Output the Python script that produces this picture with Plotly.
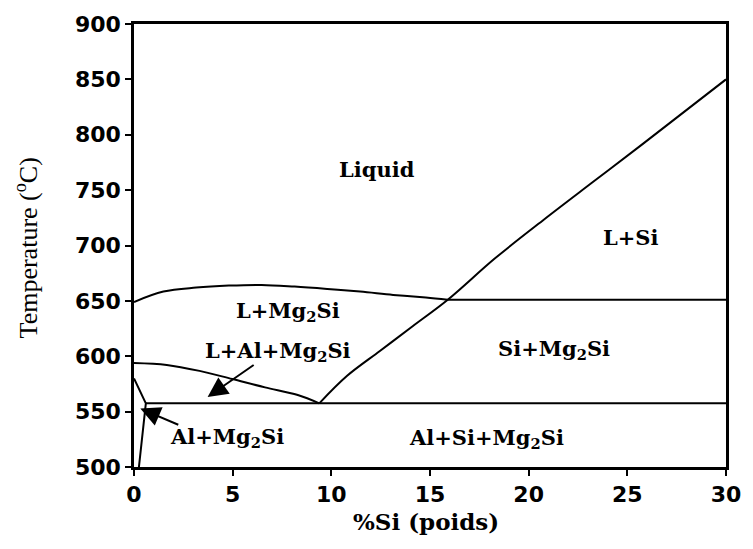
import plotly.graph_objects as go

# ---- data ----
mg2si_liq_x = [0, 1.49, 3.15, 4.81, 6.47, 8.14, 9.8, 11.46, 13.13, 14.79, 15.9]
mg2si_liq_y = [649, 658.4, 662, 663.8, 664.4, 662.9, 660.8, 658.4, 655.4, 653, 651]

si_liq_x = [9.39, 10.8, 12.46, 14.12, 15.9, 18.28, 20.78, 23.27, 25.77, 30]
si_liq_y = [557.5, 582.3, 604.7, 627.1, 651, 688.2, 723.5, 757.5, 791.5, 850]

al_liq_x = [0, 1.66, 3.32, 4.98, 6.64, 8.30, 9.39]
al_liq_y = [594, 592.2, 586.8, 579.4, 571.9, 565, 557.5]

solvus_x = [0, 0.6, 0.25]
solvus_y = [580, 557.5, 500]

eutectic_x = [0.6, 30]
eutectic_y = [557.5, 557.5]

si_mg2si_x = [15.9, 30]
si_mg2si_y = [651, 651]

region_labels = ["Liquid", "L+Si", "L+Mg<sub>2</sub>Si", "L+Al+Mg<sub>2</sub>Si",
                 "Si+Mg<sub>2</sub>Si", "Al+Mg<sub>2</sub>Si", "Al+Si+Mg<sub>2</sub>Si"]
label_x = [12.3, 25.18, 7.8, 7.3, 21.27, 4.73, 17.87]
label_y = [768.7, 707.6, 640.5, 604.7, 606, 527, 525.7]

arrow_tail_x = [6.14, 2.32]
arrow_tail_y = [593, 537.6]
arrow_tip_x = [3.73, 0.32]
arrow_tip_y = [563.2, 552.8]

x_ticks = [0, 5, 10, 15, 20, 25, 30]
y_ticks = [500, 550, 600, 650, 700, 750, 800, 850, 900]

fig = go.Figure()
line_style = dict(color="black", width=2)
for xs, ys, shape in [(mg2si_liq_x, mg2si_liq_y, "spline"), (si_liq_x, si_liq_y, "spline"),
                      (al_liq_x, al_liq_y, "spline"), (solvus_x, solvus_y, "linear"),
                      (eutectic_x, eutectic_y, "linear"), (si_mg2si_x, si_mg2si_y, "linear")]:
    fig.add_trace(go.Scatter(x=xs, y=ys, mode="lines", line=line_style,
                             line_shape=shape, showlegend=False, hoverinfo="skip"))

label_font = dict(family="DejaVu Serif", size=21, color="black")
annotations = []
for t, x, y in zip(region_labels, label_x, label_y):
    annotations.append(dict(x=x, y=y, xref="x", yref="y", text="<b>" + t + "</b>",
                            showarrow=False, font=label_font,
                            xanchor="center", yanchor="middle"))
for tx, ty, hx, hy in zip(arrow_tail_x, arrow_tail_y, arrow_tip_x, arrow_tip_y):
    annotations.append(dict(x=hx, y=hy, ax=tx, ay=ty, xref="x", yref="y",
                            axref="x", ayref="y", text="", showarrow=True,
                            arrowhead=2, arrowsize=2, arrowwidth=2,
                            arrowcolor="black", standoff=0))
# axis titles
annotations.append(dict(x=-0.182, y=0.494, xref="paper", yref="paper",
                        text="Temperature (<sup>o</sup>C)", textangle=-90,
                        showarrow=False, xanchor="center", yanchor="middle",
                        font=dict(family="Liberation Serif", size=26, color="black")))
annotations.append(dict(x=0.493, y=-0.122, xref="paper", yref="paper",
                        text="<b>%Si (poids)</b>", showarrow=False,
                        xanchor="center", yanchor="middle",
                        font=dict(family="DejaVu Serif", size=23, color="black")))

axis_common = dict(showgrid=False, zeroline=False, showline=True, linecolor="black",
                   linewidth=2.5, mirror=True, ticks="outside", ticklen=6,
                   tickwidth=2, tickcolor="black",
                   tickfont=dict(family="DejaVu Sans", size=22, color="black"))

fig.update_layout(
    width=753, height=549,
    margin=dict(l=133.5, r=18, t=20, b=82),
    plot_bgcolor="white", paper_bgcolor="white",
    xaxis=dict(range=[0, 30], tickvals=x_ticks,
               ticktext=["<b>%d</b>" % v for v in x_ticks], **axis_common),
    yaxis=dict(range=[500, 900], tickvals=y_ticks,
               ticktext=["<b>%d</b>" % v for v in y_ticks], **axis_common),
    annotations=annotations,
)

fig.write_html("out.html")
